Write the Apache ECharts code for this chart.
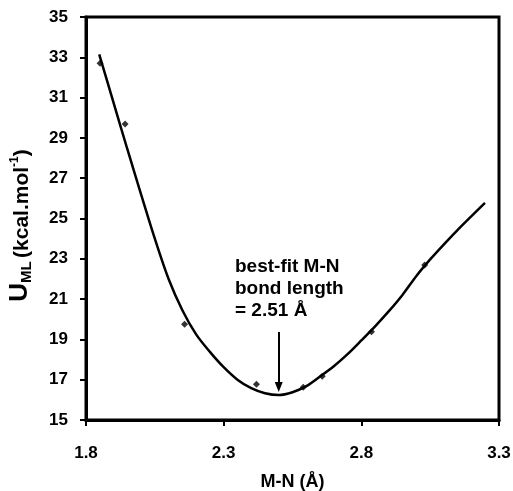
<!DOCTYPE html>
<html>
<head>
<meta charset="utf-8">
<script src="https://cdn.jsdelivr.net/npm/echarts@6/dist/echarts.min.js"></script>
<style>
    html, body { margin: 0; padding: 0; background: #fff; }
    #chart { width: 513px; height: 491px; }
</style>
</head>
<body>
<div id="chart"></div>
<script>
// 数据点 (M-N 键长, 能量)
let pointX = [1.851, 1.942, 2.158, 2.419, 2.589, 2.658, 2.837, 3.030]
let pointY = [32.70, 29.69, 19.75, 16.77, 16.62, 17.17, 19.38, 22.69]
// 拟合曲线
let fitX = [1.848, 1.90, 1.95, 2.00, 2.05, 2.10, 2.15, 2.20, 2.25, 2.30, 2.35, 2.40, 2.45, 2.50, 2.55, 2.60, 2.65, 2.70, 2.75, 2.80, 2.85, 2.90, 2.95, 3.00, 3.05, 3.10, 3.15, 3.20, 3.249]
let fitY = [33.15, 30.75, 28.45, 26.20, 24.00, 22.00, 20.45, 19.25, 18.38, 17.62, 17.00, 16.58, 16.33, 16.24, 16.38, 16.68, 17.16, 17.67, 18.27, 18.95, 19.65, 20.40, 21.22, 22.15, 22.97, 23.72, 24.44, 25.12, 25.78]
// 刻度
let xTicks = [1.8, 2.3, 2.8, 3.3]
let yTicks = [15, 17, 19, 21, 23, 25, 27, 29, 31, 33, 35]
// 箭头 (最佳键长)
let arrowX = 2.50
let arrowY = [19.37, 16.64]

let font = 'Liberation Sans, Arial, sans-serif'
let myChart = echarts.init(document.getElementById('chart'))

myChart.setOption({
    animation: false,
    grid: { // 图表离面板的距离
        left: 86,
        right: 14,
        top: 17,
        bottom: 71,
        outerBoundsMode: 'none',
        show: true,
        borderColor: '#000',
        borderWidth: 3
    },
    xAxis: {
        type: 'value',
        min: 1.8,
        max: 3.3,
        name: 'M-N (Å)',
        nameLocation: 'middle',
        nameGap: 53,
        nameTextStyle: { fontFamily: font, fontWeight: 'bold', fontSize: 18, color: '#000', verticalAlign: 'top' },
        axisLine: { lineStyle: { color: '#000', width: 3 } },
        axisTick: { show: true, length: 6, lineStyle: { color: '#000', width: 2 }, customValues: xTicks },
        axisLabel: {
            customValues: xTicks,
            margin: 25,
            fontFamily: font, fontWeight: 'bold', fontSize: 17, color: '#000',
            formatter: v => v.toFixed(1)
        },
        splitLine: { show: false }
    },
    yAxis: {
        type: 'value',
        min: 15,
        max: 35,
        name: '{u|U}{sub|ML} {n|(kcal.mol}{sup|-1}{n|)}',
        nameLocation: 'middle',
        nameRotate: 90,
        nameGap: 53,
        nameTextStyle: {
            fontFamily: font, fontWeight: 'bold', color: '#000',
            padding: [0, 14, 0, 0],
            rich: {
                u: { fontFamily: font, fontWeight: 'bold', fontSize: 26, lineHeight: 26, verticalAlign: 'top' },
                sub: { fontFamily: font, fontWeight: 'bold', fontSize: 15, lineHeight: 26, verticalAlign: 'top', padding: [12, 0, 0, 0] },
                n: { fontFamily: font, fontWeight: 'bold', fontSize: 21, lineHeight: 26, verticalAlign: 'bottom' },
                sup: { fontFamily: font, fontWeight: 'bold', fontSize: 12, lineHeight: 26, verticalAlign: 'top', padding: [2, 0, 0, 0] }
            }
        },
        axisLine: { show: true, lineStyle: { color: '#000', width: 3 } },
        axisTick: { show: true, length: 6, lineStyle: { color: '#000', width: 2 }, customValues: yTicks },
        axisLabel: {
            customValues: yTicks,
            margin: 18,
            fontFamily: font, fontWeight: 'bold', fontSize: 17, color: '#000'
        },
        splitLine: { show: false }
    },
    graphic: [{
        type: 'text',
        left: 235,
        top: 256,
        style: {
            text: 'best-fit M-N\nbond length\n= 2.51 Å',
            fontFamily: font,
            fontWeight: 'bold',
            fontSize: 19,
            lineHeight: 22,
            fill: '#000'
        }
    }],
    series: [
        {
            type: 'line',
            smooth: 0.3,
            showSymbol: false,
            data: fitX.map((x, i) => [x, fitY[i]]),
            lineStyle: { color: '#000', width: 2.5 },
            z: 2
        },
        {
            type: 'scatter',
            symbol: 'diamond',
            symbolSize: 7,
            data: pointX.map((x, i) => [x, pointY[i]]),
            itemStyle: { color: '#000' },
            z: 3
        },
        {
            type: 'line',
            showSymbol: false,
            data: [],
            markLine: {
                silent: true,
                symbol: ['none', 'triangle'],
                symbolSize: [8, 10],
                label: { show: false },
                lineStyle: { color: '#000', width: 2, type: 'solid' },
                data: [[{ coord: [arrowX, arrowY[0]] }, { coord: [arrowX, arrowY[1]] }]]
            }
        }
    ]
})
</script>
</body>
</html>
